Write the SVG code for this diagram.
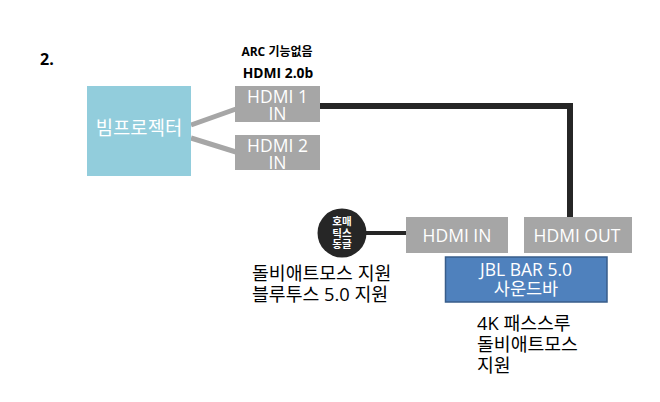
<svg xmlns="http://www.w3.org/2000/svg" width="660" height="402" viewBox="0 0 660 402">
<style>
text{font-family:"Open Sans","Noto Sans CJK KR",sans-serif;}
.port{fill:#A6A6A6;}
.pt{fill:#FFFFFF;font-size:17.5px;text-anchor:middle;}
.lbl{fill:#000000;font-size:18.3px;}
.hdr{fill:#000000;font-weight:bold;text-anchor:middle;}
.gray{stroke:#A6A6A6;stroke-width:5;fill:none;}
.blk{stroke:#262626;fill:none;}
.dt{fill:#FFFFFF;font-size:10.5px;font-weight:bold;text-anchor:middle;}
</style>
<rect width="660" height="402" fill="#FFFFFF"/>
<text x="40" y="65" font-size="16" font-weight="bold" fill="#000">2.</text>
<text class="hdr" x="277" y="56" font-size="12">ARC 기능없음</text>
<text class="hdr" x="278" y="78" font-size="13.8">HDMI 2.0b</text>
<g id="connectors">
<line class="gray" x1="191" y1="125" x2="236" y2="109"/>
<line class="gray" x1="191" y1="138" x2="236" y2="152"/>
<polyline class="blk" stroke-width="6" points="320,106 570,106 570,217"/>
<line class="blk" stroke-width="4" x1="364" y1="233" x2="406" y2="233"/>
</g>
<g id="projector">
<rect x="87" y="86" width="104" height="90" fill="#92CDDC"/>
<text x="139" y="135" fill="#FFFFFF" font-size="18.8" text-anchor="middle">빔프로젝터</text>
</g>
<g id="hdmi1in">
<rect class="port" x="235" y="86" width="85" height="36"/>
<text class="pt" x="277.5" y="102.5">HDMI 1<tspan x="277.5" dy="17">IN</tspan></text>
</g>
<g id="hdmi2in">
<rect class="port" x="235" y="135" width="85" height="35"/>
<text class="pt" x="277.5" y="151.5">HDMI 2<tspan x="277.5" dy="17">IN</tspan></text>
</g>
<g id="dongle">
<circle cx="342" cy="233" r="24.5" fill="#262626"/>
<text class="dt" x="342" y="225">호매<tspan x="342" dy="11.5">틱스</tspan><tspan x="342" dy="11.5">동글</tspan></text>
</g>
<g id="hdmiin">
<rect class="port" x="406" y="217" width="102" height="36"/>
<text class="pt" x="457" y="242">HDMI IN</text>
</g>
<g id="hdmiout">
<rect class="port" x="524" y="217" width="108" height="36"/>
<text class="pt" x="577" y="242">HDMI OUT</text>
</g>
<g id="soundbar">
<rect x="445.5" y="257" width="161.5" height="45" fill="#4F81BD" stroke="#385D8A" stroke-width="1.5"/>
<text class="pt" x="526" y="276">JBL BAR 5.0<tspan x="526" dy="19">사운드바</tspan></text>
</g>
<g id="notes">
<text class="lbl" x="252" y="280">돌비애트모스 지원<tspan x="252" dy="21">블루투스 5.0 지원</tspan></text>
<text class="lbl" x="477" y="330">4K 패스스루<tspan x="477" dy="21">돌비애트모스</tspan><tspan x="477" dy="21">지원</tspan></text>
</g>
</svg>
